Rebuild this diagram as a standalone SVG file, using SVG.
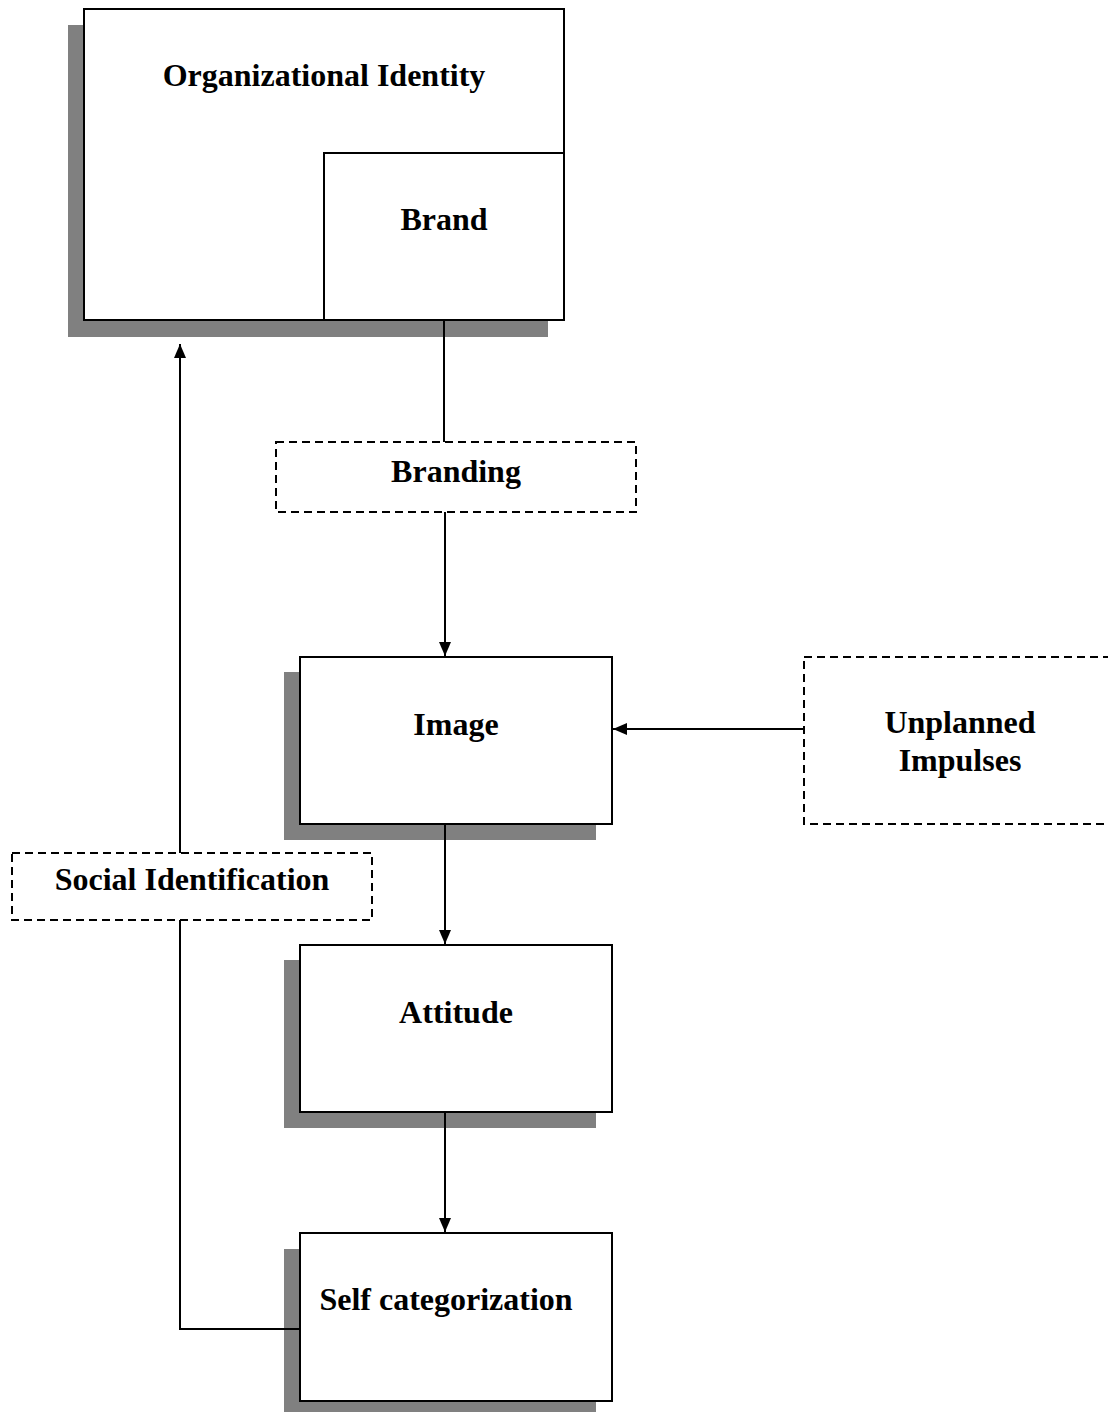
<svg xmlns="http://www.w3.org/2000/svg" width="1108" height="1412" viewBox="0 0 1108 1412">
<style>
.shadow{fill:#808080;stroke:none}
.box{fill:#fff;stroke:#000;stroke-width:2}
.dash{fill:#fff;stroke:#000;stroke-width:2;stroke-dasharray:8 5}
.lbl{font-family:"Liberation Serif","Times New Roman",serif;font-weight:bold;font-size:32px;fill:#000;text-anchor:middle}
.conn{fill:none;stroke:#000;stroke-width:2}
</style>
<defs>
<marker id="arr" markerUnits="userSpaceOnUse" markerWidth="14" markerHeight="12" refX="14" refY="6" orient="auto">
<path d="M0,0 L14,6 L0,12 z" fill="#000"/>
</marker>
</defs>
<rect width="1108" height="1412" fill="#fff"/>
<g id="org-identity">
<rect class="shadow" x="68" y="25" width="480" height="312"/>
<rect class="box" x="84" y="9" width="480" height="311"/>
<text class="lbl" x="324" y="86">Organizational Identity</text>
</g>
<g id="brand">
<rect class="box" x="324" y="153" width="240" height="167"/>
<text class="lbl" x="444" y="230">Brand</text>
</g>
<g id="branding">
<rect class="dash" x="276" y="442" width="360" height="70"/>
<text class="lbl" x="456" y="482">Branding</text>
</g>
<g id="image">
<rect class="shadow" x="284" y="672" width="312" height="168"/>
<rect class="box" x="300" y="657" width="312" height="167"/>
<text class="lbl" x="456" y="735">Image</text>
</g>
<g id="unplanned">
<rect class="dash" x="804" y="657" width="320" height="167"/>
<text class="lbl" x="960" y="733">Unplanned</text>
<text class="lbl" x="960" y="771">Impulses</text>
</g>
<g id="social-identification">
<rect class="dash" x="12" y="853" width="360" height="67"/>
<text class="lbl" x="192" y="890">Social Identification</text>
</g>
<g id="attitude">
<rect class="shadow" x="284" y="960" width="312" height="168"/>
<rect class="box" x="300" y="945" width="312" height="167"/>
<text class="lbl" x="456" y="1023">Attitude</text>
</g>
<g id="self-categorization">
<rect class="shadow" x="284" y="1249" width="312" height="163"/>
<rect class="box" x="300" y="1233" width="312" height="168"/>
<text class="lbl" x="446" y="1310">Self categorization</text>
</g>
<g id="connectors">
<line class="conn" x1="444" y1="320" x2="444" y2="442"/>
<line class="conn" x1="445" y1="512" x2="445" y2="656" marker-end="url(#arr)"/>
<line class="conn" x1="804" y1="729" x2="613" y2="729" marker-end="url(#arr)"/>
<line class="conn" x1="445" y1="824" x2="445" y2="944" marker-end="url(#arr)"/>
<line class="conn" x1="445" y1="1112" x2="445" y2="1232" marker-end="url(#arr)"/>
<polyline class="conn" points="300,1329 180,1329 180,920"/>
<line class="conn" x1="180" y1="853" x2="180" y2="344" marker-end="url(#arr)"/>
</g>
</svg>
